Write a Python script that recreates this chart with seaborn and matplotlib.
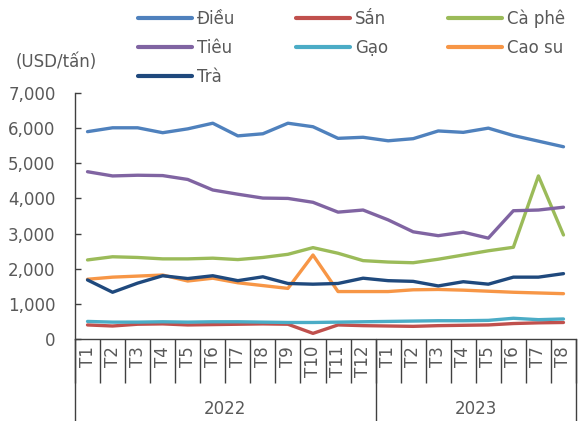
import numpy as np
import pandas as pd
import matplotlib
matplotlib.use("Agg")
import matplotlib.pyplot as plt
import matplotlib.transforms as mtransforms
import seaborn as sns

# month labels (2022: T1-T12, 2023: T1-T8)
months = [f"T{i}" for i in range(1, 13)] + [f"T{i}" for i in range(1, 9)]
years = ["2022", "2023"]
year_len = [12, 8]

dieu = [5900, 6010, 6010, 5870, 5980, 6140, 5780, 5840, 6140, 6040,
        5710, 5740, 5640, 5700, 5920, 5880, 6000, 5790, 5630, 5470]
san = [400, 370, 420, 430, 400, 410, 420, 430, 420, 160,
       400, 380, 370, 360, 380, 390, 400, 440, 460, 470]
caphe = [2250, 2340, 2320, 2280, 2280, 2300, 2260, 2320, 2410, 2600,
         2440, 2230, 2190, 2170, 2270, 2390, 2510, 2610, 4640, 2960]
tieu = [4760, 4640, 4660, 4650, 4540, 4240, 4120, 4010, 4000, 3890,
        3610, 3670, 3390, 3050, 2940, 3040, 2870, 3650, 3670, 3750]
gao = [500, 480, 480, 490, 480, 490, 490, 480, 470, 470,
       480, 490, 500, 510, 520, 520, 530, 590, 550, 570]
caosu = [1700, 1760, 1790, 1820, 1650, 1730, 1600, 1520, 1440, 2390,
         1350, 1350, 1350, 1400, 1410, 1390, 1360, 1330, 1310, 1290]
tra = [1680, 1330, 1590, 1800, 1720, 1800, 1660, 1770, 1580, 1560,
       1580, 1730, 1660, 1640, 1510, 1630, 1560, 1760, 1760, 1860]

series = {"Điều": dieu, "Sắn": san, "Cà phê": caphe, "Tiêu": tieu,
          "Gạo": gao, "Cao su": caosu, "Trà": tra}
colors = {"Điều": "#4F81BD", "Sắn": "#C0504D", "Cà phê": "#9BBB59",
          "Tiêu": "#8064A2", "Gạo": "#4BACC6", "Cao su": "#F79646",
          "Trà": "#1F497D"}
legend_order = ["Điều", "Tiêu", "Trà", "Sắn", "Gạo", "Cà phê", "Cao su"]

rows = []
for name, vals in series.items():
    for i, v in enumerate(vals):
        rows.append({"idx": i, "value": v, "name": name})
df = pd.DataFrame(rows)

sns.set_style("white")
plt.rcParams["font.family"] = ["DejaVu Sans"]
txt = "#595959"
fs = 12

fig = plt.figure(figsize=(5.79, 4.21), dpi=100)
ax = fig.add_axes([75 / 579, 82 / 421, 501 / 579, 246 / 421])

sns.lineplot(data=df, x="idx", y="value", hue="name", hue_order=list(series.keys()),
             palette=colors, linewidth=2.4, legend=False, ax=ax)

n = len(months)
ax.set_xlim(-0.5, n - 0.5)
ax.set_ylim(0, 7000)
ax.set_yticks(range(0, 7001, 1000))
ax.set_yticklabels([f"{v:,}" for v in range(0, 7001, 1000)], color=txt, fontsize=fs)
ax.tick_params(axis="y", length=4, width=1, color="#404040", direction="in", left=True, pad=14)

# category separators as major ticks, month labels as minor ticks
ax.set_xticks(np.arange(-0.5, n, 1.0))
ax.set_xticklabels([])
ax.tick_params(axis="x", which="major", length=32, width=1, color="#404040", bottom=True)
ax.set_xticks(np.arange(n), minor=True)
ax.set_xticklabels(months, minor=True, rotation=90, color=txt, fontsize=fs)
ax.tick_params(axis="x", which="minor", length=0, pad=5)
ax.set_xlabel("")
ax.set_ylabel("")

for s in ["top", "right"]:
    ax.spines[s].set_visible(False)
for s in ["left", "bottom"]:
    ax.spines[s].set_color("#404040")
    ax.spines[s].set_linewidth(1)

# year groups
trans = mtransforms.blended_transform_factory(ax.transData, ax.transAxes)
start = -0.5
bounds = [start]
for y, l in zip(years, year_len):
    ax.text(start + l / 2, -0.285, y, transform=trans, ha="center", va="center",
            color=txt, fontsize=fs)
    start += l
    bounds.append(start)
for b in bounds:
    ax.plot([b, b], [0, -0.34], transform=trans, color="#404040", lw=1, clip_on=False)

fig.text(56 / 579, 1 - 62 / 421, "(USD/tấn)", ha="center", va="center", color=txt, fontsize=fs)

lh = [plt.Line2D([0], [0], color=colors[k], lw=3, solid_capstyle="round") for k in legend_order]
fig.legend(lh, legend_order, ncol=3, loc="upper left", bbox_to_anchor=(129 / 579, 1.0),
           frameon=False, fontsize=fs, handlelength=3.25, columnspacing=3.6,
           labelspacing=0.68, handletextpad=0.3, labelcolor=txt, borderaxespad=0.15)

fig.savefig("out.png", dpi=100)
